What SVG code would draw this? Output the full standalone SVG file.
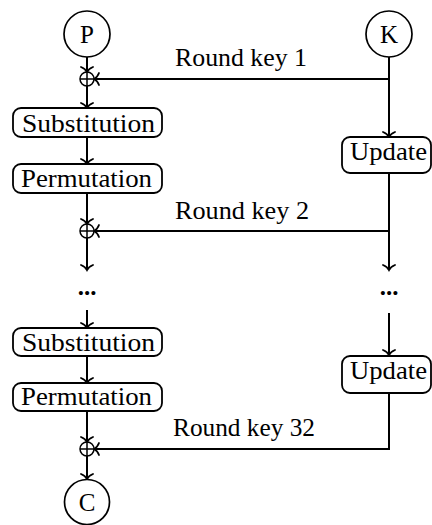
<svg xmlns="http://www.w3.org/2000/svg" width="432" height="525" viewBox="0 0 432 525">
<style>
.bg{fill:#fff}
.box{fill:#fff;stroke:#000;stroke-width:1.8}
.circ{fill:#fff;stroke:#000;stroke-width:1.7}
.xor{fill:#fff;stroke:#000;stroke-width:1.5}
.wire{fill:none;stroke:#000;stroke-width:2}
.t{font-family:"Liberation Serif","DejaVu Serif",serif;font-size:25px;fill:#000}
</style>
<defs>
<marker id="arr" markerUnits="userSpaceOnUse" markerWidth="14" markerHeight="16" viewBox="-8 -8 14 16" refX="0" refY="0" orient="auto" overflow="visible">
<path d="M-5,-6 C-3.8,-2.8 -1.8,-0.9 0,0 C-1.8,0.9 -3.8,2.8 -5,6" fill="none" stroke="#000" stroke-width="1.8" stroke-linecap="round"/>
</marker>
</defs>
<rect class="bg" x="0" y="0" width="432" height="525"/>
<g id="connectors">
<path class="wire" d="M87,57 L87,72" marker-end="url(#arr)"/>
<path class="wire" d="M87,86 L87,108" marker-end="url(#arr)"/>
<path class="wire" d="M87,137 L87,164" marker-end="url(#arr)"/>
<path class="wire" d="M87,193 L87,224" marker-end="url(#arr)"/>
<path class="wire" d="M87,238 L87,270" marker-end="url(#arr)"/>
<path class="wire" d="M87,310 L87,328" marker-end="url(#arr)"/>
<path class="wire" d="M87,356 L87,383" marker-end="url(#arr)"/>
<path class="wire" d="M87,411 L87,442" marker-end="url(#arr)"/>
<path class="wire" d="M87,456 L87,479" marker-end="url(#arr)"/>
<path class="wire" d="M389,57 L389,137" marker-end="url(#arr)"/>
<path class="wire" d="M389,79 L94,79" marker-end="url(#arr)"/>
<path class="wire" d="M389,173 L389,270" marker-end="url(#arr)"/>
<path class="wire" d="M389,231 L94,231" marker-end="url(#arr)"/>
<path class="wire" d="M389,313 L389,355" marker-end="url(#arr)"/>
<path class="wire" d="M389,393 L389,449 L94,449" marker-end="url(#arr)"/>
<text class="t" x="175" y="66" textLength="132" lengthAdjust="spacingAndGlyphs">Round key 1</text>
<text class="t" x="175" y="219" textLength="134" lengthAdjust="spacingAndGlyphs">Round key 2</text>
<text class="t" x="173" y="436" textLength="142" lengthAdjust="spacingAndGlyphs">Round key 32</text>
</g>
<g id="P"><circle class="circ" cx="87" cy="34" r="23"/><text class="t" x="87" y="42.5" text-anchor="middle">P</text></g>
<g id="K"><circle class="circ" cx="389" cy="34" r="23"/><text class="t" x="389" y="42.5" text-anchor="middle">K</text></g>
<g id="C"><circle class="circ" cx="87" cy="502" r="22.5"/><text class="t" x="87" y="510.5" text-anchor="middle">C</text></g>
<g id="xor1"><circle class="xor" cx="87" cy="79" r="7"/><path class="xor" d="M80,79 H94 M87,72 V86"/></g>
<g id="xor2"><circle class="xor" cx="87" cy="231" r="7"/><path class="xor" d="M80,231 H94 M87,224 V238"/></g>
<g id="xor3"><circle class="xor" cx="87" cy="449" r="7"/><path class="xor" d="M80,449 H94 M87,442 V456"/></g>
<g id="sub1"><rect class="box" x="13" y="108" width="149" height="29" rx="8"/><text class="t" x="22" y="132" textLength="133" lengthAdjust="spacingAndGlyphs">Substitution</text></g>
<g id="perm1"><rect class="box" x="13" y="164" width="149" height="29" rx="8"/><text class="t" x="21" y="187" textLength="131" lengthAdjust="spacingAndGlyphs">Permutation</text></g>
<g id="upd1"><rect class="box" x="342" y="137" width="89" height="36" rx="8"/><text class="t" x="350" y="160" textLength="77" lengthAdjust="spacingAndGlyphs">Update</text></g>
<g id="dotsL"><text class="t" x="87" y="295" text-anchor="middle" font-weight="bold">...</text></g>
<g id="dotsR"><text class="t" x="389" y="295" text-anchor="middle" font-weight="bold">...</text></g>
<g id="sub2"><rect class="box" x="13" y="328" width="149" height="28" rx="8"/><text class="t" x="22" y="351" textLength="133" lengthAdjust="spacingAndGlyphs">Substitution</text></g>
<g id="perm2"><rect class="box" x="13" y="383" width="149" height="28" rx="8"/><text class="t" x="21" y="405" textLength="131" lengthAdjust="spacingAndGlyphs">Permutation</text></g>
<g id="upd2"><rect class="box" x="342" y="356" width="89" height="37" rx="8"/><text class="t" x="350" y="379" textLength="77" lengthAdjust="spacingAndGlyphs">Update</text></g>
</svg>
